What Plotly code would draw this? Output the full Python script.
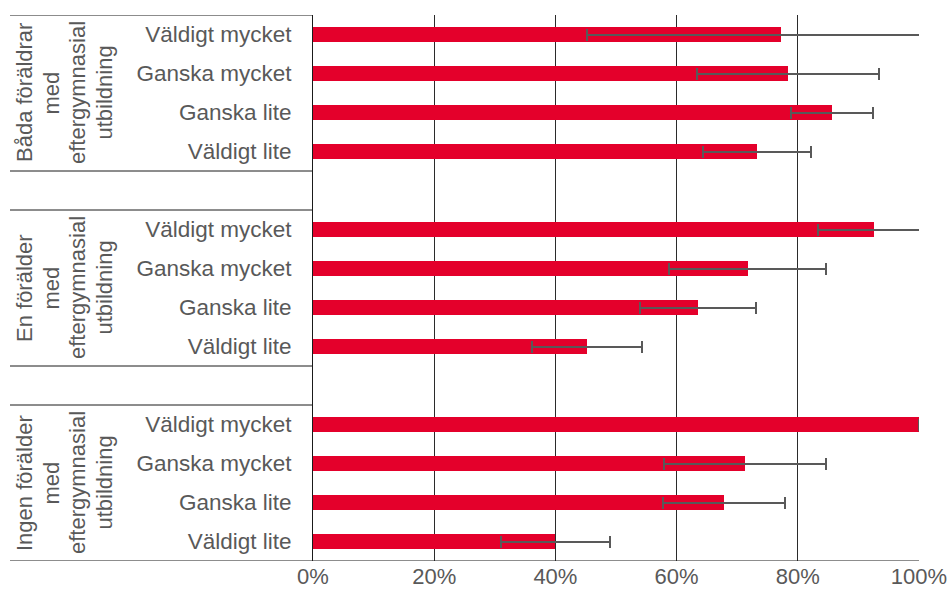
import plotly.graph_objects as go

groups = [["Båda föräldrar", "med", "eftergymnasial", "utbildning"],
          ["En förälder", "med", "eftergymnasial", "utbildning"],
          ["Ingen förälder", "med", "eftergymnasial", "utbildning"]]
items = ["Väldigt mycket", "Ganska mycket", "Ganska lite", "Väldigt lite"]
values = [
    [0.772, 0.784, 0.856, 0.732],
    [0.925, 0.717, 0.635, 0.452],
    [1.000, 0.713, 0.678, 0.400],
]
errors = [
    [0.320, 0.150, 0.068, 0.089],
    [0.092, 0.130, 0.096, 0.091],
    [0.000, 0.134, 0.101, 0.090],
]
x_ticks = [0, 0.2, 0.4, 0.6, 0.8, 1.0]
x_labels = ["0%", "20%", "40%", "60%", "80%", "100%"]

TXT = "#595959"
FONT = "Liberation Sans, Arial, sans-serif"

ys, xs, es, tv, tt = [], [], [], [], []
for g in range(len(groups)):
    for i in range(len(items)):
        r = g * 5 + i
        ys.append(r)
        xs.append(values[g][i])
        es.append(errors[g][i])
        tv.append(r)
        tt.append(items[i])

fig = go.Figure(go.Bar(
    x=xs, y=ys, orientation="h", width=0.36,
    marker=dict(color="#E4002B", line=dict(width=0)),
    error_x=dict(type="data", array=es, symmetric=True, color="#595959",
                 thickness=2, width=6, visible=True),
    cliponaxis=True,
))

LINE = "#1a1a1a"
shapes = []
for yb in [-0.5, 3.5, 4.5, 8.5, 9.5]:
    shapes.append(dict(type="line", xref="paper", yref="y", x0=-0.5, x1=0,
                       y0=yb, y1=yb, line=dict(color=LINE, width=1)))
shapes.append(dict(type="line", xref="paper", yref="y", x0=-0.5, x1=1,
                   y0=13.5, y1=13.5, line=dict(color=LINE, width=1)))

PLOT_W = 606
line_px = [-289, -262.5, -236, -209.5]  # line centres relative to plot left edge
annotations = []
for g, lines in enumerate(groups):
    for k, txt in enumerate(lines):
        annotations.append(dict(
            text=txt, xref="paper", yref="y", x=line_px[k] / PLOT_W,
            y=g * 5 + 1.5, textangle=-90, showarrow=False,
            xanchor="center", yanchor="middle",
            font=dict(family=FONT, size=22, color=TXT)))

fig.update_layout(
    width=949, height=595,
    margin=dict(l=313, r=30, t=15, b=34),
    plot_bgcolor="white", paper_bgcolor="white",
    showlegend=False,
    bargap=0,
    shapes=shapes,
    annotations=annotations,
    xaxis=dict(range=[0, 1], tickvals=x_ticks, ticktext=x_labels,
               showgrid=True, gridcolor="#2b2b2b", gridwidth=1,
               zeroline=False, showline=False, ticks="", automargin=False,
               tickfont=dict(family=FONT, size=22, color=TXT)),
    yaxis=dict(range=[13.5, -0.5], tickvals=tv, ticktext=tt,
               showgrid=False, zeroline=False, showline=True, automargin=False,
               linecolor=LINE, linewidth=1, ticks="", ticklen=0,
               tickfont=dict(family=FONT, size=22.5, color=TXT)),
)
fig.update_yaxes(ticklabelstandoff=16)

fig.write_html("out.html",
               config={"displayModeBar": False},
               post_script="document.body.style.margin='0';document.body.style.overflow='hidden';")
